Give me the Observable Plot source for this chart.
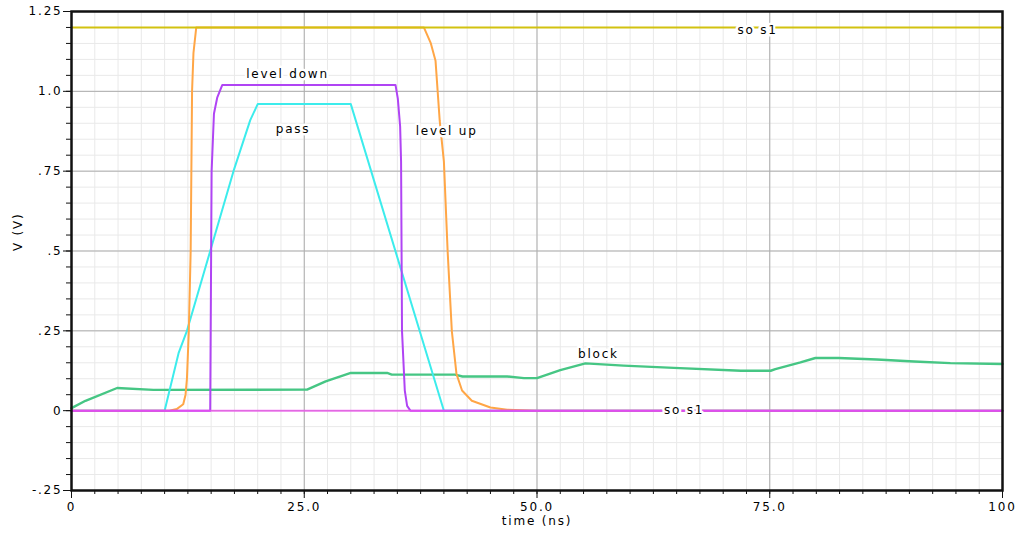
<!DOCTYPE html>
<html>
<head>
<meta charset="utf-8">
<script src="https://cdn.jsdelivr.net/npm/d3@7"></script>
<script src="https://cdn.jsdelivr.net/npm/@observablehq/plot@0.6"></script>
<style>
  html, body { margin: 0; padding: 0; background: #fff; }
  #chart svg { display: block; font-family: "DejaVu Sans", sans-serif; }
  #chart svg text { letter-spacing: 1.8px; }
</style>
</head>
<body>
<div id="chart"></div>
<script>
// Transient simulation traces: time (ns) and voltage (V)
const soTopT = [0, 100];
const soTopV = [1.2, 1.2];

const soBotT = [0, 100];
const soBotV = [0, 0];

const levelUpT = [0, 10.5, 11.3, 12.0, 12.25, 12.4, 12.6, 12.8, 12.95, 13.1, 13.4, 37.85, 38.6, 39.1, 39.55, 40.0, 40.4, 40.85, 41.35, 41.95, 43.0, 45.0, 46.8, 50, 100];
const levelUpV = [0, 0, 0.005, 0.02, 0.05, 0.1, 0.25, 0.5, 1.0, 1.12, 1.2, 1.2, 1.15, 1.096, 0.908, 0.78, 0.5, 0.25, 0.115, 0.063, 0.031, 0.01, 0.003, 0, 0];

const levelDownT = [0, 14.9, 15.05, 15.3, 15.65, 16.2, 34.8, 35.05, 35.3, 35.4, 35.5, 35.8, 36.05, 36.4, 100];
const levelDownV = [0, 0, 0.75, 0.93, 0.98, 1.02, 1.02, 0.977, 0.89, 0.78, 0.25, 0.063, 0.015, 0, 0];

const passT = [0, 10, 11.5, 12.4, 17.4, 19.2, 20, 30, 40, 100];
const passV = [0, 0, 0.18, 0.25, 0.75, 0.91, 0.96, 0.96, 0, 0];

const blockT = [0, 1.5, 4.9, 8.8, 25.3, 27.3, 30, 33.9, 34.4, 41.2, 42, 46.8, 48.6, 50, 52.5, 55.2, 59.3, 64.7, 71.9, 75.1, 75.6, 78.3, 79.9, 82.4, 86.5, 90.5, 94.4, 100];
const blockV = [0.008, 0.031, 0.071, 0.065, 0.066, 0.092, 0.118, 0.118, 0.113, 0.113, 0.107, 0.107, 0.102, 0.102, 0.127, 0.148, 0.141, 0.134, 0.125, 0.125, 0.13, 0.151, 0.165, 0.165, 0.16, 0.154, 0.149, 0.146];

// Trace labels placed on the plot
const labelText = ["so s1", "so s1", "level down", "pass", "level up", "block"];
const labelT    = [73.7, 65.8, 23.2, 23.8, 40.3, 56.6];
const labelV    = [1.193, 0.003, 1.055, 0.883, 0.874, 0.178];

// Axis ticks
const xMajor = [0, 25, 50, 75, 100];
const xMajorLabels = ["0", "25.0", "50.0", "75.0", "100"];
const yMajor = [-0.25, 0, 0.25, 0.5, 0.75, 1.0, 1.25];
const yMajorLabels = ["-.25", "0", ".25", ".5", ".75", "1.0", "1.25"];
const xMinor = d3.range(0, 100.001, 2.5);
const yMinor = d3.range(-0.25, 1.2501, 0.05).map(v => Math.round(v * 100) / 100);

const toRows = (id, ts, vs) => ts.map((t, i) => ({id, t, v: vs[i]}));
const under = [
  ...toRows("block", blockT, blockV),
  ...toRows("pass", passT, passV),
  ...toRows("levelUp", levelUpT, levelUpV),
  ...toRows("levelDown", levelDownT, levelDownV)
];
const labels = labelText.map((text, i) => ({text, t: labelT[i], v: labelV[i]}));

const colors = {
  block: "#46c684",
  pass: "#3cecec",
  levelUp: "#ffa646",
  levelDown: "#b044f4",
  soBot: "#f050f0",
  soTop: "#d2c210"
};

const ink = "#000";

const chart = Plot.plot({
  width: 1025,
  height: 533,
  marginLeft: 71,
  marginRight: 23,
  marginTop: 11,
  marginBottom: 43,
  x: {domain: [0, 100]},
  y: {domain: [-0.25, 1.25]},
  marks: [
    // grid
    Plot.ruleX(xMinor, {stroke: "#e9e9e9", strokeWidth: 1}),
    Plot.ruleY(yMinor, {stroke: "#e9e9e9", strokeWidth: 1}),
    Plot.ruleX(xMajor, {stroke: "#adadad", strokeWidth: 1}),
    Plot.ruleY(yMajor, {stroke: "#adadad", strokeWidth: 1}),
    // traces
    Plot.line(under, {x: "t", y: "v", z: "id", stroke: d => colors[d.id], strokeWidth: d => d.id === "block" ? 2.4 : 2}),
    Plot.line(toRows("soBot", soBotT, soBotV), {x: "t", y: "v", stroke: colors.soBot, strokeWidth: 2, strokeOpacity: 0.75}),
    Plot.line(toRows("soTop", soTopT, soTopV), {x: "t", y: "v", stroke: colors.soTop, strokeWidth: 2}),
    // trace names
    Plot.text(labels, {x: "t", y: "v", text: "text", fill: ink, stroke: "white", strokeWidth: 5, fontSize: 12}),
    // frame and axes
    Plot.frame({stroke: "#111", strokeWidth: 2.5}),
    Plot.axisX(xMinor, {tickSize: 4, tickFormat: () => "", stroke: "#111", label: null}),
    Plot.axisY(yMinor, {tickSize: 5, tickFormat: () => "", stroke: "#111", label: null}),
    Plot.axisX(xMajor, {tickSize: 8, tickPadding: 4, tickFormat: d => xMajorLabels[xMajor.indexOf(d)], fill: ink, stroke: "#111", fontSize: 12, label: null}),
    Plot.axisY(yMajor, {tickSize: 8, tickPadding: 1, tickFormat: d => yMajorLabels[yMajor.indexOf(d)], fill: ink, stroke: "#111", fontSize: 12, label: null}),
    Plot.text(["time (ns)"], {x: 50, frameAnchor: "bottom", dy: 34, text: d => d, fill: ink, fontSize: 12}),
    Plot.text(["V (V)"], {y: 0.5, frameAnchor: "left", dx: -53, rotate: -90, text: d => d, fill: ink, fontSize: 12})
  ]
});

document.getElementById("chart").appendChild(chart);
</script>
</body>
</html>
